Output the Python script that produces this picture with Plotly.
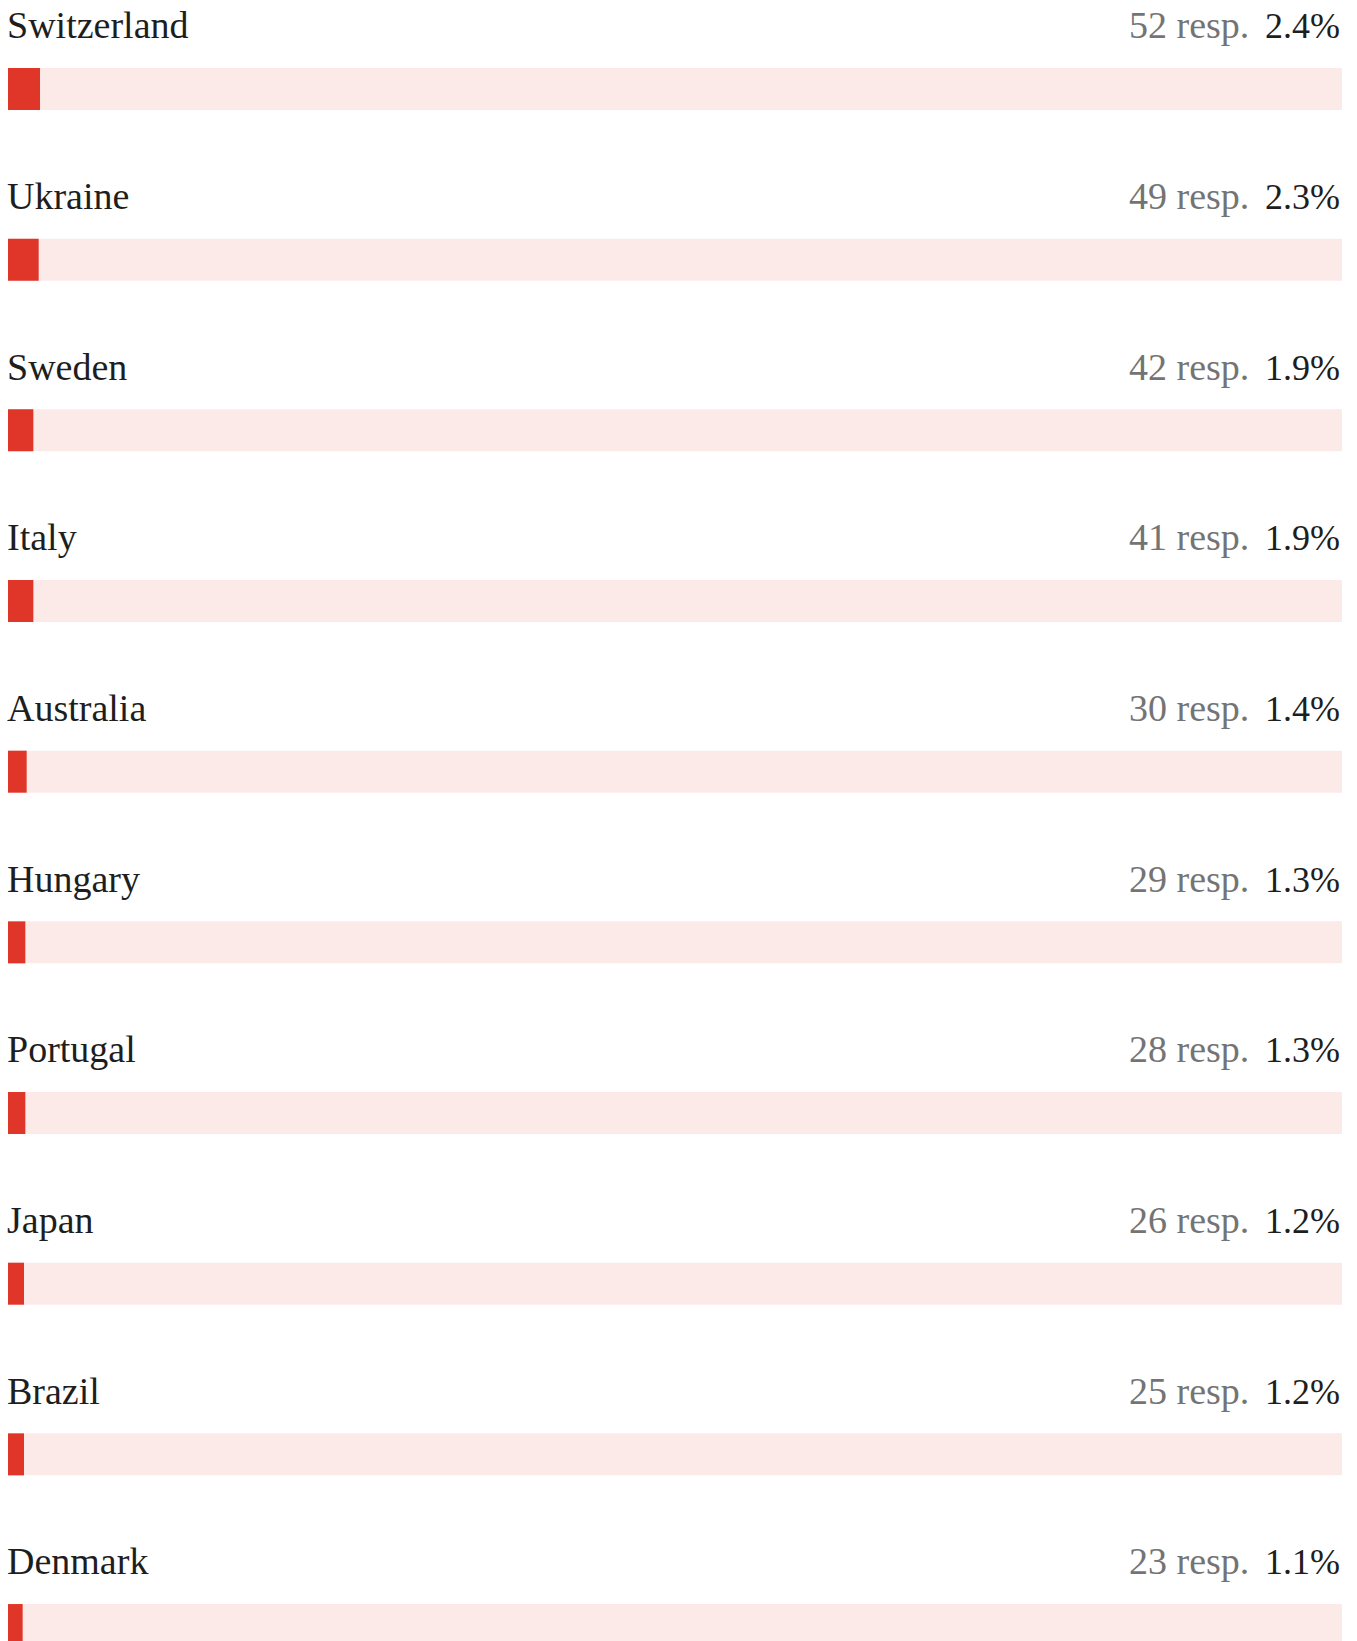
import plotly.graph_objects as go

# Survey responses by country
countries = ["Switzerland", "Ukraine", "Sweden", "Italy", "Australia",
             "Hungary", "Portugal", "Japan", "Brazil", "Denmark"]
responses = [52, 49, 42, 41, 30, 29, 28, 26, 25, 23]
shares = [2.4, 2.3, 1.9, 1.9, 1.4, 1.3, 1.3, 1.2, 1.2, 1.1]

W, H = 1357, 1641
LEFT, RIGHT = 8, 1342          # track extent in px
PITCH = 170.67                 # row spacing in px
FIRST_CENTER = 89              # centre of the first bar in px
BAR_PX = 42

RED = "#E0362A"
TRACK = "#FBEAE7"
FONT = "Liberation Serif"
FS = 38

bar_w = BAR_PX / PITCH
y_top = -FIRST_CENTER / PITCH
y_bot = (H - FIRST_CENTER) / PITCH

fig = go.Figure()
# full-length background track
fig.add_trace(go.Bar(
    y=countries, x=[100] * len(countries), orientation="h",
    width=bar_w, marker=dict(color=TRACK, line=dict(width=0)),
    hoverinfo="skip",
))
# share of respondents
fig.add_trace(go.Bar(
    y=countries, x=shares, orientation="h",
    width=bar_w, marker=dict(color=RED, line=dict(width=0), cornerradius=6),
    hovertemplate="%{y}: %{x}%<extra></extra>",
))

label_offset = 0.238  # text sits above the bar, in row units
annotations = []
for i, (c, n, s) in enumerate(zip(countries, responses, shares)):
    yy = i - label_offset
    annotations.append(dict(
        x=(LEFT - 3) / W, xref="paper", y=yy, yref="y",
        text=c, showarrow=False, xanchor="left", yanchor="bottom",
        font=dict(family=FONT, size=FS, color="#1E1E1E"),
    ))
    annotations.append(dict(
        x=1251 / W, xref="paper", y=yy, yref="y",
        text=f"{n} resp.", showarrow=False, xanchor="right", yanchor="bottom",
        font=dict(family=FONT, size=FS, color="#747474"),
    ))
    annotations.append(dict(
        x=1342 / W, xref="paper", y=yy, yref="y",
        text=f"{s}%", showarrow=False, xanchor="right", yanchor="bottom",
        font=dict(family=FONT, size=FS - 2, color="#1E1E1E"),
    ))

fig.update_layout(
    width=W, height=H,
    margin=dict(l=0, r=0, t=0, b=0),
    paper_bgcolor="white", plot_bgcolor="white",
    barmode="overlay", showlegend=False,
    annotations=annotations,
    xaxis=dict(range=[0, 100], domain=[LEFT / W, RIGHT / W], visible=False,
               fixedrange=True),
    yaxis=dict(range=[y_bot, y_top], visible=False, fixedrange=True),
)

fig.write_html("out.html", config={"displayModeBar": False})
